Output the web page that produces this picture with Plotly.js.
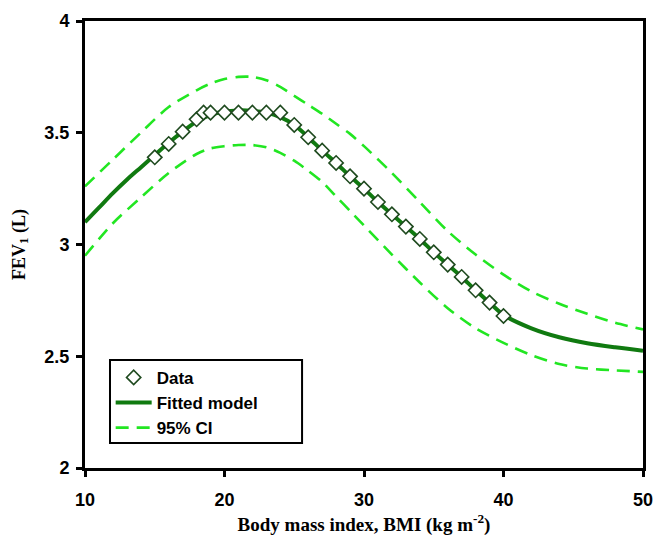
<!DOCTYPE html>
<html>
<head>
<meta charset="utf-8">
<script src="https://cdn.plot.ly/plotly-3.0.1.min.js"></script>
<style>html,body{margin:0;padding:0;background:#fff;}#chart{width:654px;height:536px;}</style>
</head>
<body>
<div id="chart"></div>
<script>
// Observed data (BMI, FEV1)
const dataBMI = [15,16,17,18,18.5,19,20,21,22,23,24,25,26,27,28,29,30,31,32,33,34,35,36,37,38,39,40];
const dataFEV = [3.39,3.45,3.505,3.56,3.59,3.59,3.59,3.59,3.59,3.59,3.59,3.535,3.48,3.42,3.365,3.305,3.25,3.19,3.135,3.08,3.025,2.965,2.91,2.855,2.795,2.74,2.68];

// Fitted model
const fitBMI = [10,11,12,13,14,15,16,17,18,19,20,21,22,23,24,25,26,27,28,29,30,31,32,33,34,35,36,37,38,39,40,42,44,46,48,50];
const fitFEV = [3.10,3.165,3.23,3.29,3.345,3.40,3.455,3.505,3.55,3.58,3.595,3.60,3.598,3.59,3.57,3.535,3.48,3.42,3.365,3.305,3.25,3.19,3.135,3.08,3.025,2.965,2.91,2.855,2.795,2.74,2.685,2.625,2.585,2.558,2.54,2.525];

// 95% confidence interval
const ciBMI = [10,12,14,16,18,19,20,21,22,23,24,25,26,27,28,29,30,32,34,36,38,40,42,44,46,48,50];
const ciUpper = [3.26,3.38,3.50,3.615,3.69,3.72,3.74,3.75,3.75,3.735,3.705,3.665,3.625,3.585,3.54,3.495,3.44,3.32,3.19,3.06,2.955,2.865,2.79,2.735,2.69,2.65,2.62];
const ciLower = [2.95,3.095,3.21,3.32,3.405,3.43,3.44,3.445,3.445,3.435,3.41,3.375,3.33,3.28,3.215,3.15,3.085,2.955,2.83,2.715,2.625,2.56,2.505,2.465,2.445,2.437,2.43];

const xTicks = [10,20,30,40,50];
const yTicks = [2,2.5,3,3.5,4];
const yTickText = ['2','2.5','3','3.5','4'];

const ciColor = '#22e622';
const fitColor = '#107a10';
const markColor = '#1f4a1f';

const traces = [
  {x: ciBMI, y: ciUpper, mode:'lines', name:'95% CI', legendrank:3,
   line:{color:ciColor, width:2.6, dash:'13px,8px', shape:'spline', smoothing:0.8}},
  {x: ciBMI, y: ciLower, mode:'lines', name:'95% CI', showlegend:false,
   line:{color:ciColor, width:2.6, dash:'13px,8px', shape:'spline', smoothing:0.8}},
  {x: fitBMI, y: fitFEV, mode:'lines', name:'Fitted model', legendrank:2,
   line:{color:fitColor, width:4, shape:'spline', smoothing:0.8}},
  {x: dataBMI, y: dataFEV, mode:'markers', name:'Data', legendrank:1,
   marker:{symbol:'diamond', size:11, color:'#ffffff', line:{color:markColor, width:1.6}}}
];

const sansBold = {family:'"Liberation Sans", Arial, sans-serif', size:18, color:'#000', weight:'bold'};
const serifBold = {family:'"Liberation Serif", "Times New Roman", serif', size:19, color:'#000', weight:'bold'};

const layout = {
  width:654, height:536,
  margin:{l:85, r:11, t:21, b:68, autoexpand:false},
  paper_bgcolor:'#fff', plot_bgcolor:'#fff',
  showlegend:true,
  legend:{x:0.046, y:0.242, xanchor:'left', yanchor:'top',
    borderwidth:0, bgcolor:'rgba(0,0,0,0)',
    font:{family:'"Liberation Sans", Arial, sans-serif', size:17, color:'#000', weight:'bold'},
    traceorder:'normal', itemwidth:36, tracegroupgap:0},
  shapes:[{type:'rect', xref:'paper', yref:'paper', x0:0.0448, x1:0.389, y0:0.056, y1:0.2416,
    line:{color:'#000', width:2}, fillcolor:'#fff', layer:'below'}],
  xaxis:{range:[10,50], tickvals:xTicks, ticktext:xTicks.map(String),
    showgrid:false, zeroline:false, showline:true, linecolor:'#000', linewidth:3,
    mirror:true, ticks:'outside', ticklen:6, tickwidth:3, tickcolor:'#000',
    tickfont:sansBold, ticklabelstandoff:7, automargin:true,
    title:{text:'Body mass index, BMI (kg m<sup>-2</sup>)', standoff:10, font:serifBold}},
  yaxis:{range:[2,4], tickvals:yTicks, ticktext:yTickText,
    showgrid:false, zeroline:false, showline:true, linecolor:'#000', linewidth:3,
    mirror:true, ticks:'outside', ticklen:6, tickwidth:3, tickcolor:'#000',
    tickfont:sansBold, ticklabelstandoff:3, automargin:false,
    title:{text:'FEV<sub>1</sub> (L)', standoff:15,
      font:{family:'"Liberation Serif", "Times New Roman", serif', size:18, color:'#000', weight:'bold'}}}
};

Plotly.newPlot('chart', traces, layout, {displayModeBar:false, staticPlot:true});
</script>
</body>
</html>
